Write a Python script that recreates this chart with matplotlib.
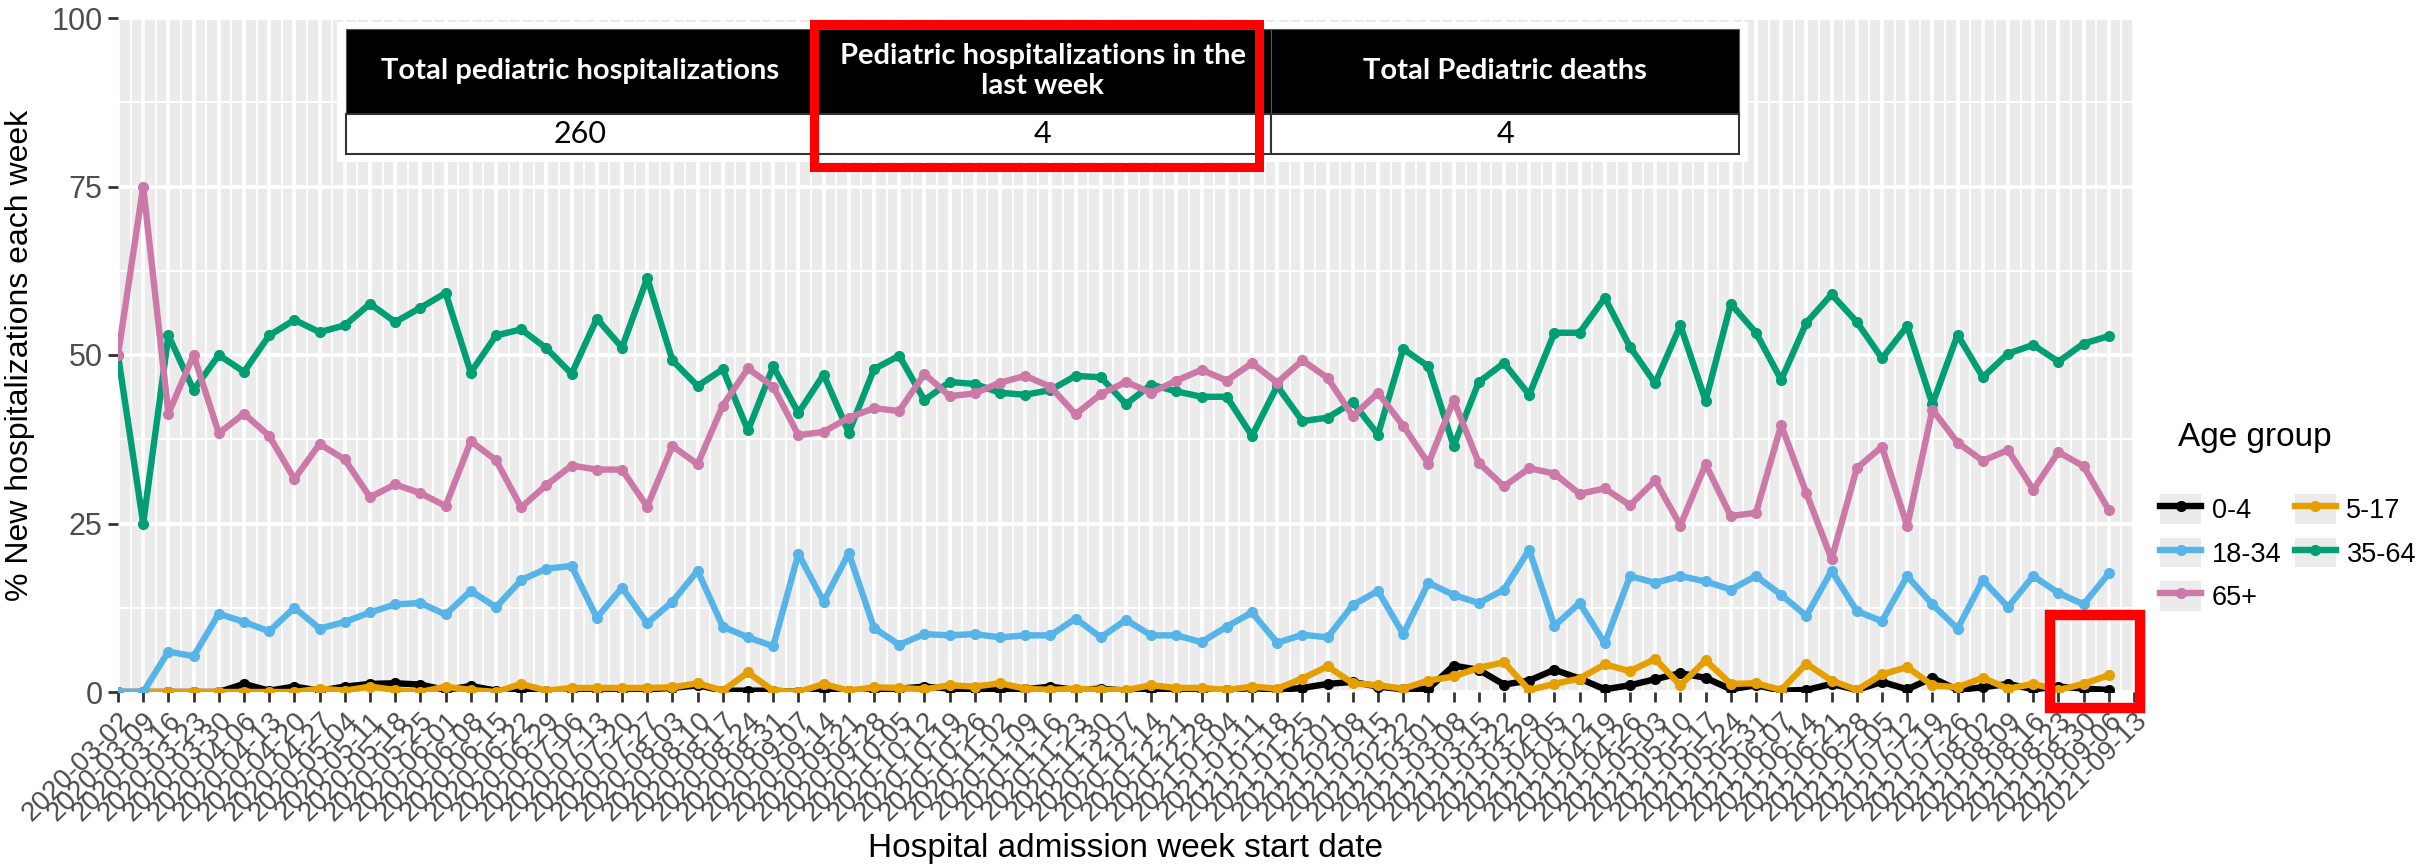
import numpy as np
import pandas as pd
import matplotlib
matplotlib.use("Agg")
import matplotlib.pyplot as plt
from matplotlib.patches import Rectangle, Patch
from matplotlib.legend_handler import HandlerTuple

plt.rcParams['font.family'] = ['Liberation Sans', 'DejaVu Sans']

# Week start dates shown on the axis (last tick has no data yet)
week_starts = pd.date_range("2020-03-02", "2021-09-13", freq="7D")

# % of new hospitalizations each week, by age group
age_0_4 = [0, 0, 0, 0, 0, 1.2, 0.2, 0.8, 0.2, 0.8, 1.2, 1.3, 1.1, 0.3,
           0.9, 0.2, 0.3, 0.2, 0.3, 0.3, 0.3, 0.4, 0.6, 1.0, 0.2, 0.2, 0.2,
           0, 0.3, 0.2, 0.3, 0.5, 0.8, 0.5, 0.4, 0.3, 0.4, 0.8, 0.3, 0.5,
           0.2, 0.3, 0.5, 0.3, 0.3, 0.6, 0.3, 0.6, 1.2, 1.5, 0.8, 0.4, 0.5,
           3.9, 3.3, 1.1, 1.7, 3.3, 2.0, 0.4, 1.0, 1.9, 2.8, 2.1, 0.4, 1.0,
           0.2, 0.3, 1.2, 0.3, 1.5, 0.4, 2.1, 0.3, 0.7, 1.2, 0.4, 0.8, 0.5, 0.3]
age_5_17 = [0, 0, 0, 0, 0, 0, 0, 0, 0.5, 0.2, 0.8, 0.3, 0, 0.8,
            0.3, 0, 1.2, 0.2, 0.6, 0.6, 0.6, 0.6, 0.7, 1.3, 0.2, 2.9, 0.2,
            0, 1.2, 0.2, 0.7, 0.6, 0.4, 1.0, 0.8, 1.3, 0.5, 0.3, 0.5, 0.3,
            0.3, 1.0, 0.6, 0.6, 0.3, 0.8, 0.5, 2.0, 3.8, 1.3, 1.0, 0.5, 1.7,
            2.3, 3.6, 4.4, 0.3, 1.2, 2.0, 4.1, 3.1, 4.9, 1.0, 4.7, 1.2, 1.3,
            0.3, 4.2, 1.7, 0.3, 2.6, 3.7, 1.0, 0.7, 2.1, 0.5, 1.2, 0.3, 1.2, 2.5]
age_18_34 = [0, 0, 6.0, 5.3, 11.6, 10.4, 9.0, 12.5, 9.4, 10.4, 11.8, 13.0, 13.2, 11.5,
             15.0, 12.6, 16.6, 18.3, 18.7, 11.0, 15.5, 10.2, 13.4, 18.0, 9.7, 8.1, 6.8,
             20.5, 13.4, 20.6, 9.5, 7.0, 8.6, 8.4, 8.6, 8.1, 8.4, 8.4, 10.9, 8.1,
             10.7, 8.4, 8.4, 7.4, 9.7, 11.8, 7.3, 8.5, 8.1, 12.9, 15.0, 8.6, 16.2,
             14.4, 13.2, 15.2, 21.1, 9.8, 13.2, 7.2, 17.2, 16.2, 17.2, 16.4, 15.2, 17.2,
             14.4, 11.3, 18.0, 12.0, 10.5, 17.2, 13.0, 9.4, 16.6, 12.6, 17.2, 14.7, 13.0, 17.6]
age_35_64 = [50.0, 25.0, 52.9, 44.8, 50.0, 47.5, 52.9, 55.2, 53.4, 54.4, 57.6, 54.9, 57.0, 59.2,
             47.4, 52.9, 53.8, 51.0, 47.2, 55.4, 51.1, 61.4, 49.2, 45.4, 47.9, 38.8, 48.3,
             41.4, 47.1, 38.5, 47.9, 49.9, 43.3, 46.0, 45.7, 44.4, 44.1, 44.8, 46.9, 46.7,
             42.7, 45.6, 44.6, 43.8, 43.8, 38.0, 45.4, 40.2, 40.7, 43.0, 38.2, 50.9, 48.3,
             36.5, 46.0, 48.8, 44.1, 53.3, 53.3, 58.5, 51.2, 45.8, 54.4, 43.2, 57.6, 53.3,
             46.3, 54.8, 59.0, 54.9, 49.5, 54.3, 42.7, 53.0, 46.7, 50.2, 51.5, 49.0, 51.7, 52.8]
age_65p = [50.0, 75.0, 41.3, 50.0, 38.4, 41.3, 38.0, 31.6, 36.8, 34.5, 28.9, 30.8, 29.5, 27.6,
           37.2, 34.4, 27.4, 30.7, 33.6, 33.0, 33.0, 27.5, 36.5, 33.8, 42.5, 48.0, 45.3,
           38.1, 38.6, 40.7, 42.1, 41.7, 47.2, 43.9, 44.3, 45.9, 46.9, 45.3, 41.2, 44.2,
           46.0, 44.4, 46.2, 47.8, 46.2, 48.8, 45.9, 49.2, 46.6, 40.9, 44.4, 39.5, 33.9,
           43.3, 34.0, 30.5, 33.2, 32.4, 29.4, 30.2, 27.7, 31.4, 24.7, 33.8, 26.1, 26.6,
           39.6, 29.5, 19.7, 33.2, 36.4, 24.6, 41.9, 37.0, 34.3, 35.9, 30.0, 35.6, 33.5, 27.0]

age_groups = ["0-4", "5-17", "18-34", "35-64", "65+"]
series = [age_0_4, age_5_17, age_18_34, age_35_64, age_65p]
colors = ["#000000", "#E69F00", "#56B4E9", "#009E73", "#CC79A7"]

# Summary table
table_headers = ["Total pediatric hospitalizations",
                 "Pediatric hospitalizations in the\nlast week",
                 "Total Pediatric deaths"]
table_values = ["260", "4", "4"]

W, H = 2422, 864
fig = plt.figure(figsize=(W / 100, H / 100), dpi=100)


def fx(px):
    return px / W


def fy(py):
    return 1 - py / H


# panel
ax = fig.add_axes([fx(118), fy(692), (2134 - 118) / W, (692 - 18) / H])
ax.set_facecolor("#EBEBEB")

lines = []
for name, vals, c in zip(age_groups, series, colors):
    ln, = ax.plot(week_starts[:len(vals)], vals, color=c, lw=4.6, marker="o", ms=7,
                  solid_joinstyle="round", label=name)
    lines.append(ln)

ax.set_xlim(week_starts[0], week_starts[-1])
ax.set_ylim(0, 100)
ax.set_xticks(week_starts)
ax.set_xticklabels([d.strftime("%Y-%m-%d") for d in week_starts], rotation=45,
                   ha="right", rotation_mode="anchor", fontsize=20, color="#4D4D4D")
ax.set_xticks(week_starts[:-1] + pd.Timedelta(hours=84), minor=True)
ax.set_yticks([0, 25, 50, 75, 100])
ax.set_yticklabels(["0", "25", "50", "75", "100"], fontsize=22, color="#4D4D4D")
ax.set_yticks([12.5, 37.5, 62.5, 87.5], minor=True)
ax.tick_params(which="major", length=7, width=2, color="#333333", pad=4)
ax.tick_params(which="minor", length=0)
ax.grid(which="major", color="white", lw=2.6)
ax.grid(which="minor", color="white", lw=1.3)
ax.set_axisbelow(True)
for s in ax.spines.values():
    s.set_visible(False)

ax.set_xlabel("Hospital admission week start date", fontsize=24, color="black")
ax.xaxis.set_label_coords(0.5, (692 - 849) / 674)
ax.xaxis.label.set_va("center")
ax.set_ylabel("% New hospitalizations each week", fontsize=23, color="black")
ax.yaxis.set_label_coords((20 - 118) / 2016, 0.5)
ax.yaxis.label.set_va("center")

# summary table drawn on top of the panel
fig.add_artist(Rectangle((fx(337), fy(162)), (1748 - 337) / W, (162 - 22) / H,
                         transform=fig.transFigure, facecolor="white", edgecolor="none"))
col_edges = [346, 814, 1271, 1739]
for i in range(3):
    x0, x1 = col_edges[i], col_edges[i + 1]
    fig.add_artist(Rectangle((fx(x0), fy(114)), (x1 - x0) / W, (114 - 29) / H,
                             transform=fig.transFigure, facecolor="black",
                             edgecolor="#555555", lw=0.8))
    fig.add_artist(Rectangle((fx(x0), fy(154)), (x1 - x0) / W, (154 - 114) / H,
                             transform=fig.transFigure, facecolor="white",
                             edgecolor="#333333", lw=1.5))
    cx = (x0 + x1) / 2
    fig.text(fx(cx), fy(71), table_headers[i], ha="center", va="center", color="white",
             fontsize=21, fontweight="bold", family="Lato", linespacing=1.15)
    fig.text(fx(cx), fy(134), table_values[i], ha="center", va="center", color="black",
             fontsize=22, family="Lato")

# red highlight boxes
fig.add_artist(Rectangle((fx(814), fy(167)), (1259 - 814) / W, (167 - 24) / H,
                         transform=fig.transFigure, facecolor="none",
                         edgecolor="#FF0000", lw=6.5))
fig.add_artist(Rectangle((fx(2050), fy(708)), (2140 - 2050) / W, (708 - 615) / H,
                         transform=fig.transFigure, facecolor="none",
                         edgecolor="#FF0000", lw=7.5))

# legend, filled row-wise like the original
fig.text(fx(2178), fy(437), "Age group", ha="left", va="center", fontsize=24)
order = [0, 2, 4, 1, 3]
handles = [(Patch(facecolor="#EBEBEB", edgecolor="none"), lines[i]) for i in order]
labels = [age_groups[i] for i in order]
fig.legend(handles, labels, ncol=2, loc="upper left",
           bbox_to_anchor=(fx(2136), fy(470)), frameon=False, fontsize=19.5,
           handlelength=1.5, handleheight=1.3, columnspacing=0.5,
           labelspacing=0.5, handletextpad=0.4,
           handler_map={tuple: HandlerTuple(ndivide=1)})

fig.savefig("out.png", dpi=100, facecolor="white")
